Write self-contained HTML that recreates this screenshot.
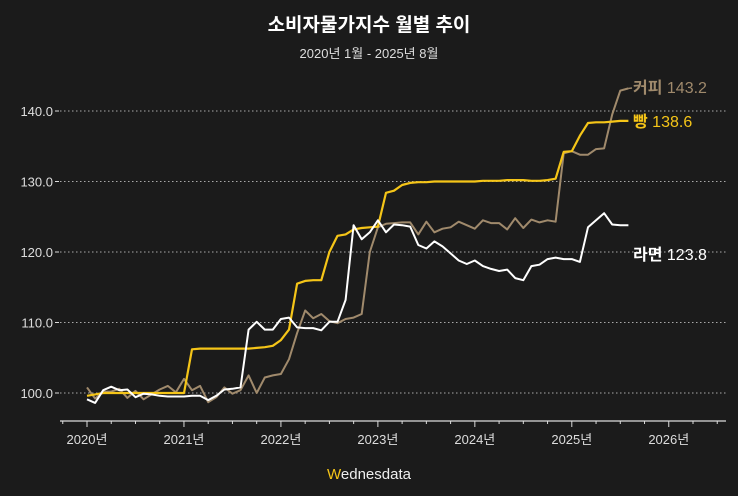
<!DOCTYPE html>
<html><head><meta charset="utf-8"><style>
html,body{margin:0;padding:0;background:#1b1b1b;}
svg{display:block}
text{font-family:"Liberation Sans","Noto Sans CJK KR",sans-serif;}
</style></head><body>
<svg id="c" width="738" height="496" xmlns="http://www.w3.org/2000/svg">
<rect width="738" height="496" fill="#1b1b1b"/>
<text x="369" y="31" fill="#fff" font-size="19" font-weight="bold" text-anchor="middle">소비자물가지수 월별 추이</text>
<text x="369" y="58" fill="#ddd" font-size="13" text-anchor="middle">2020년 1월 - 2025년 8월</text>
<g id="grid"></g>
<g id="series"></g>
<text x="633" y="93" font-size="16" fill="#a08a6c"><tspan font-weight="bold">커피</tspan> 143.2</text>
<text x="633" y="127" font-size="16" fill="#f5c518"><tspan font-weight="bold">빵</tspan> 138.6</text>
<text x="633" y="260" font-size="16" fill="#fff"><tspan font-weight="bold">라면</tspan> 123.8</text>
<text x="369" y="479" font-size="15" fill="#eee" text-anchor="middle"><tspan fill="#f5c518">W</tspan>ednesdata</text>
</svg>
<script>
var NS="http://www.w3.org/2000/svg";
function el(t,a,p){var e=document.createElementNS(NS,t);for(var k in a)e.setAttribute(k,a[k]);p.appendChild(e);return e;}
var g=document.getElementById('grid'),s=document.getElementById('series');
function Y(v){return 393-(v-100)*7.05;}
function X(m){return 87+m*8.08;}
[100,110,120,130,140].forEach(function(v){
 el('line',{x1:60,x2:726,y1:Y(v),y2:Y(v),stroke:'#aaa','stroke-width':1,'stroke-dasharray':'1.5,2.5'},g);
 el('line',{x1:55,x2:59,y1:Y(v),y2:Y(v),stroke:'#ddd'},g);
 var t=el('text',{x:53,y:Y(v)+5,fill:'#ddd','font-size':13,'text-anchor':'end'},g);t.textContent=v.toFixed(1);
});
el('line',{x1:60,x2:726,y1:421,y2:421,stroke:'#ddd','stroke-width':1.2},g);
for(var q=-3;q<=78;q+=3){var x=X(q);if(x<60||x>726)continue;var major=q%12==0;
 el('line',{x1:x,x2:x,y1:421,y2:major?427:424,stroke:'#ddd'},g);
 if(major){var t=el('text',{x:x,y:444,fill:'#ddd','font-size':13,'text-anchor':'middle'},g);t.textContent=(2020+q/12)+'년';}}
var bread=[99.6,99.8,100,100,100,100,100,100,100,100,100,100,100,106.2,106.3,106.3,106.3,106.3,106.3,106.3,106.3,106.4,106.5,106.7,107.5,109,115.5,115.9,116,116,120,122.3,122.5,123.2,123.4,123.5,123.6,128.4,128.7,129.5,129.8,129.9,129.9,130,130,130,130,130,130,130.1,130.1,130.1,130.2,130.2,130.2,130.1,130.1,130.2,130.4,134.2,134.3,136.5,138.3,138.4,138.4,138.5,138.6,138.6];
var coffee=[100.8,99.2,100.2,100.2,100.6,99.3,100.3,99.1,99.8,100.5,101,100.1,102,100.4,101,98.7,99.4,100.8,99.9,100.4,102.5,100,102.2,102.5,102.7,104.8,108.5,111.7,110.6,111.2,110.2,109.9,110.5,110.7,111.2,120,123.5,124,124.1,124.2,124.2,122.5,124.3,122.8,123.3,123.5,124.3,123.8,123.3,124.5,124.1,124.1,123.2,124.8,123.4,124.6,124.2,124.5,124.3,134,134.3,133.8,133.8,134.6,134.7,139.5,142.9,143.2];
var ramen=[99.1,98.6,100.4,100.9,100.4,100.5,99.4,99.9,99.8,99.6,99.5,99.5,99.5,99.6,99.6,99,99.6,100.5,100.6,100.8,109,110.1,109,109,110.5,110.7,109.3,109.2,109.2,108.9,110.1,110.1,113.2,123.8,121.8,122.8,124.5,122.8,123.9,123.8,123.6,121,120.5,121.5,120.8,119.8,118.8,118.3,118.8,118,117.6,117.3,117.5,116.3,116,118,118.2,119,119.2,119,119,118.6,123.5,124.5,125.5,123.9,123.8,123.8];
function path(d,c,w){var p='';d.forEach(function(v,i){p+=(i?'L':'M')+X(i).toFixed(1)+','+Y(v).toFixed(1);});
 el('path',{d:p,fill:'none',stroke:c,'stroke-width':w,'stroke-linejoin':'round'},s);}
path(coffee,'#a08a6c',2);path(bread,'#f5c518',2.2);path(ramen,'#ffffff',2);
el('path',{d:'M'+X(67)+','+Y(143.2)+' L632,88',stroke:'#a08a6c',fill:'none','stroke-width':1.5},s);
</script>
</body></html>
